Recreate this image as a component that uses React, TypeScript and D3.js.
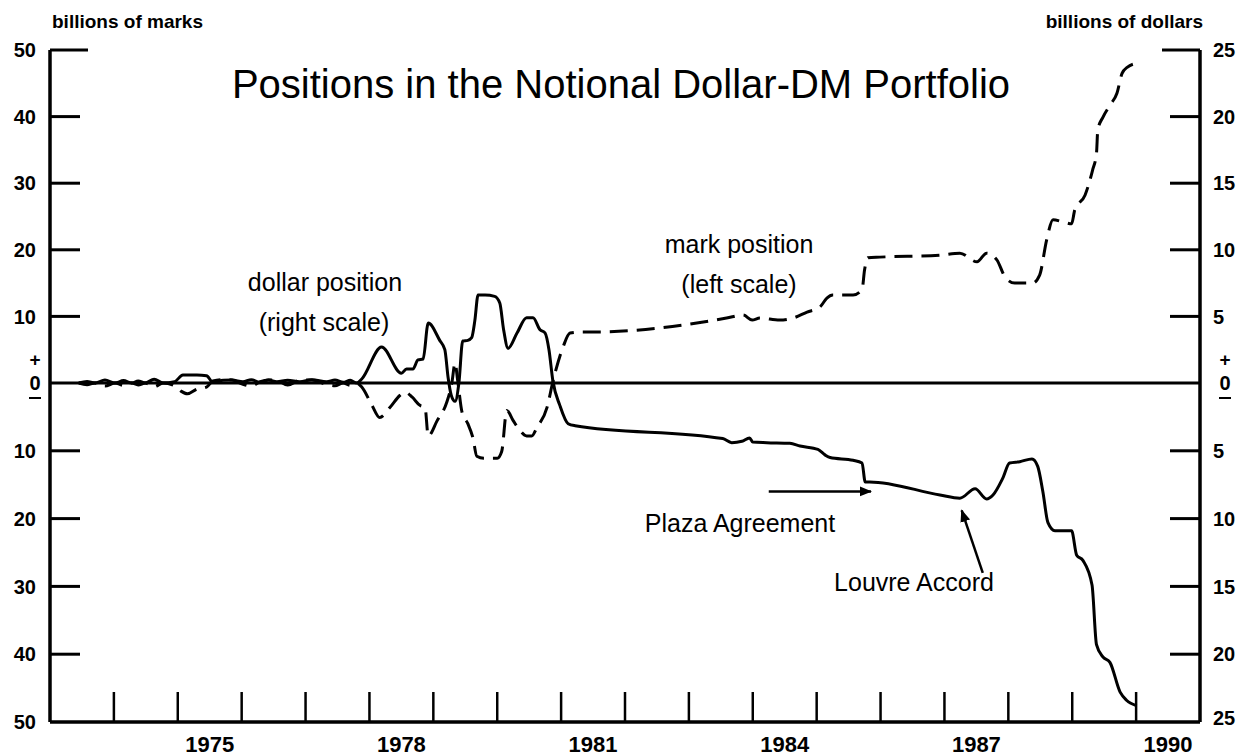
import * as d3 from "d3";
import React from "react";

const width = 1248;
const height = 756;
const plot = { left: 50, right: 1200, top: 50, zero: 383, bottom: 722 };
const font = "'Liberation Sans', Arial, Helvetica, sans-serif";

// dollar position, billions of dollars (right scale)
const dollarYears = [
  1973.45, 1973.58, 1973.7, 1973.86, 1974.02, 1974.15, 1974.28, 1974.38, 1974.49, 1974.63,
  1974.77, 1974.95, 1975.08, 1975.3, 1975.45, 1975.55, 1975.71, 1975.85, 1976.02, 1976.15,
  1976.29, 1976.42, 1976.55, 1976.72, 1976.91, 1977.1, 1977.33, 1977.46, 1977.59, 1977.7,
  1977.8, 1977.88, 1978.19, 1978.5, 1978.58, 1978.68, 1978.76, 1978.84, 1978.92, 1979.1,
  1979.18, 1979.23, 1979.28, 1979.34, 1979.4, 1979.46, 1979.54, 1979.6, 1979.65, 1979.7,
  1979.81, 1979.96, 1980.04, 1980.1, 1980.17, 1980.31, 1980.46, 1980.56, 1980.67, 1980.75,
  1980.81, 1980.87, 1980.98, 1981.11, 1981.22, 1983.53, 1983.67, 1983.83, 1983.95, 1984.0,
  1984.22, 1984.58, 1984.74, 1985.02, 1985.13, 1985.21, 1985.57, 1985.71, 1985.76, 1985.83,
  1986.93, 1987.24, 1987.48, 1987.66, 1987.76, 1987.91, 1988.02, 1988.18, 1988.37, 1988.46,
  1988.54, 1988.62, 1988.73, 1988.85, 1988.99, 1989.07, 1989.17, 1989.31, 1989.38, 1989.48,
  1989.59, 1989.75, 1989.85, 1990.01,
];
const dollarValues = [
  0, 0.12, 0, 0.22, 0, 0.18, 0, 0.15, 0, 0.28,
  0, 0.1, 0.6, 0.6, 0.55, 0.05, 0.2, 0.22, 0.1, 0.25,
  0.05, 0.22, 0.1, 0.2, 0.1, 0.25, 0.1, 0.22, 0.05, 0.2,
  0, 0.3, 2.7, 0.73, 1.05, 1.05, 1.73, 1.8, 4.5, 3.2,
  2.5, 0.45, -0.9, -1.35, 0, 3.15, 3.2, 3.4, 4.7, 6.6,
  6.6, 6.5, 6.0, 4.0, 2.6, 3.75, 4.9, 4.9, 4.0, 3.75,
  2.5, 0.2, -1.65, -3.0, -3.15, -4.1, -4.4, -4.3, -4.05, -4.35,
  -4.4, -4.45, -4.65, -4.9, -5.3, -5.5, -5.7, -5.9, -7.3, -7.3,
  -8.26, -8.5, -7.8, -8.55, -8.26, -7.05, -5.9, -5.8, -5.6, -6.15,
  -8.0, -10.3, -10.9, -10.9, -10.9, -12.7, -13.1, -14.9, -19.3, -20.2,
  -20.6, -22.8, -23.4, -23.8,
];

// mark position, billions of marks (left scale)
const markYears = [
  1973.45, 1973.58, 1973.7, 1973.86, 1974.02, 1974.15, 1974.28, 1974.38, 1974.49, 1974.63,
  1974.77, 1974.95, 1975.05, 1975.15, 1975.3, 1975.45, 1975.55, 1975.71, 1975.85, 1976.02,
  1976.15, 1976.29, 1976.42, 1976.55, 1976.72, 1976.91, 1977.1, 1977.33, 1977.46, 1977.59,
  1977.7, 1977.8, 1977.88, 1978.04, 1978.16, 1978.32, 1978.48, 1978.56, 1978.67, 1978.79,
  1978.87, 1978.92, 1979.06, 1979.21, 1979.29, 1979.34, 1979.38, 1979.45, 1979.54, 1979.62,
  1979.68, 1979.79, 1980.0, 1980.07, 1980.15, 1980.25, 1980.36, 1980.46, 1980.54, 1980.62,
  1980.78, 1980.87, 1981.03, 1981.14, 1981.29, 1981.5, 1983.59, 1983.85, 1983.99, 1984.11,
  1984.42, 1984.63, 1984.85, 1985.05, 1985.16, 1985.25, 1985.57, 1985.71, 1985.75, 1985.8,
  1985.99, 1986.93, 1987.24, 1987.51, 1987.66, 1987.82, 1987.95, 1988.1, 1988.38, 1988.49,
  1988.6, 1988.7, 1988.85, 1988.99, 1989.04, 1989.2, 1989.32, 1989.38, 1989.4, 1989.48,
  1989.59, 1989.7, 1989.78, 1989.86, 1990.01,
];
const markValues = [
  0, -0.25, 0, -0.45, 0, -0.35, 0, -0.3, 0, -0.55,
  0, -0.4, -1.2, -1.6, -0.9, -0.6, 0.3, 0.5, 0.45, -0.2,
  -0.45, 0.2, 0.45, 0.4, -0.3, 0.4, 0.45, -0.2, -0.4, 0,
  -0.35, 0, -0.6, -3.3, -5.1, -3.6, -1.8, -1.35, -2.1, -3.3,
  -3.6, -7.8, -5.55, -2.85, 0, 3.0, 0.45, -4.35, -6.0, -8.1,
  -10.8, -11.1, -11.1, -10.1, -4.05, -5.55, -7.05, -7.8, -7.8, -6.6,
  -3.6, 0.15, 5.4, 7.5, 7.65, 7.65, 9.75, 10.2, 9.45, 9.75,
  9.45, 9.75, 10.65, 11.4, 12.75, 13.2, 13.2, 14.0, 17.0, 18.8,
  18.9, 19.2, 19.5, 18.2, 19.5, 18.5, 15.9, 15.0, 15.0, 16.2,
  21.5, 24.5, 24.2, 23.9, 26.0, 28.2, 32.0, 34.5, 38.0, 39.9,
  41.7, 43.5, 46.5, 47.4, 48.0,
];

const leftTicks = [50, 40, 30, 20, 10, -10, -20, -30, -40];
const rightTicks = [25, 20, 15, 10, 5, -5, -10, -15, -20];
const yearTicks = d3.range(1974, 1991);
const yearLabels = [1975, 1978, 1981, 1984, 1987, 1990];

const x = d3.scaleLinear().domain([1973, 1991]).range([plot.left, plot.right]);
const yMark = d3.scaleLinear().domain([-50, 0, 50]).range([plot.bottom, plot.zero, plot.top]);
const yDollar = d3.scaleLinear().domain([-25, 0, 25]).range([plot.bottom, plot.zero, plot.top]);

const dollarLine = d3
  .line<number>()
  .x((d, i) => x(dollarYears[i]))
  .y((d) => yDollar(d))
  .curve(d3.curveMonotoneX);

const markLine = d3
  .line<number>()
  .x((d, i) => x(markYears[i]))
  .y((d) => yMark(d))
  .curve(d3.curveMonotoneX);

const App = () => {
  const tickLen = 30;
  const numStyle = { fontFamily: font, fontSize: 20, fontWeight: 700 } as const;
  const noteStyle = { fontFamily: font, fontSize: 25 } as const;

  return (
    <svg
      width={width}
      height={height}
      style={{ position: "absolute", left: 0, top: 0, background: "#fff" }}
    >
      <defs>
        <marker id="head" viewBox="0 0 10 10" refX="9" refY="5" markerWidth="5" markerHeight="5" orient="auto">
          <path d="M0,1 L10,5 L0,9 Z" fill="#000" />
        </marker>
      </defs>

      {/* frame */}
      <g stroke="#000" strokeWidth={3.5} fill="none">
        <line x1={plot.left} y1={plot.top} x2={plot.left} y2={plot.bottom} />
        <line x1={plot.right} y1={plot.top} x2={plot.right} y2={plot.bottom} />
        <line x1={plot.left} y1={plot.bottom} x2={plot.right} y2={plot.bottom} />
        <line x1={plot.left} y1={plot.zero} x2={plot.right} y2={plot.zero} strokeWidth={3} />
      </g>

      {/* left axis */}
      {leftTicks.map((t, i) => (
        <g key={"l" + t}>
          <line
            x1={plot.left}
            x2={plot.left + (i === 0 ? 38 : tickLen)}
            y1={yMark(t)}
            y2={yMark(t)}
            stroke="#000"
            strokeWidth={3}
          />
          <text x={36} y={yMark(t)} dy="0.36em" textAnchor="end" style={numStyle}>
            {Math.abs(t)}
          </text>
        </g>
      ))}
      <text x={36} y={plot.bottom} dy="0.36em" textAnchor="end" style={numStyle}>50</text>

      {/* right axis */}
      {rightTicks.map((t, i) => (
        <g key={"r" + t}>
          <line
            x1={plot.right - (i === 0 ? 38 : tickLen)}
            x2={plot.right}
            y1={yDollar(t)}
            y2={yDollar(t)}
            stroke="#000"
            strokeWidth={3}
          />
          <text x={1213} y={yDollar(t)} dy="0.36em" style={numStyle}>
            {Math.abs(t)}
          </text>
        </g>
      ))}
      <text x={1213} y={plot.bottom - 4} dy="0.36em" style={numStyle}>25</text>

      {/* +0- markers */}
      {[35, 1225].map((cx) => (
        <g key={"z" + cx} style={numStyle} textAnchor="middle">
          <text x={cx} y={plot.zero - 24} dy="0.36em" style={{ ...numStyle, fontSize: 19 }}>+</text>
          <text x={cx} y={plot.zero} dy="0.36em">0</text>
          <line x1={cx - 6} x2={cx + 6} y1={plot.zero + 15} y2={plot.zero + 15} stroke="#000" strokeWidth={2} />
        </g>
      ))}

      {/* year ticks */}
      {yearTicks.map((yr) => (
        <line
          key={yr}
          x1={x(yr)}
          x2={x(yr)}
          y1={plot.bottom - 30}
          y2={plot.bottom}
          stroke="#000"
          strokeWidth={2.5}
        />
      ))}
      {yearLabels.map((yr) => (
        <text key={yr} x={x(yr + 0.5)} y={752} textAnchor="middle" style={{ ...numStyle, fontSize: 22 }}>
          {yr}
        </text>
      ))}

      {/* series */}
      <path d={dollarLine(dollarValues) || ""} fill="none" stroke="#000" strokeWidth={3} strokeLinejoin="round" />
      <path
        d={markLine(markValues) || ""}
        fill="none"
        stroke="#000"
        strokeWidth={3}
        strokeDasharray="18 9"
        strokeLinejoin="round"
      />

      {/* titles */}
      <text x={52} y={28} style={{ fontFamily: font, fontSize: 19, fontWeight: 700 }}>billions of marks</text>
      <text x={1203} y={28} textAnchor="end" style={{ fontFamily: font, fontSize: 19, fontWeight: 700 }}>
        billions of dollars
      </text>
      <text x={621} y={98} textAnchor="middle" style={{ fontFamily: font, fontSize: 40 }}>
        Positions in the Notional Dollar-DM Portfolio
      </text>

      {/* annotations */}
      <text x={325} y={291} textAnchor="middle" style={noteStyle}>dollar position</text>
      <text x={324} y={331} textAnchor="middle" style={noteStyle}>(right scale)</text>
      <text x={739} y={253} textAnchor="middle" style={noteStyle}>mark position</text>
      <text x={739} y={293} textAnchor="middle" style={noteStyle}>(left scale)</text>
      <text x={740} y={532} textAnchor="middle" style={noteStyle}>Plaza Agreement</text>
      <text x={914} y={591} textAnchor="middle" style={noteStyle}>Louvre Accord</text>

      <line
        x1={x(1984.25)}
        y1={yDollar(-8.0)}
        x2={x(1985.85)}
        y2={yDollar(-8.0)}
        stroke="#000"
        strokeWidth={2.5}
        markerEnd="url(#head)"
      />
      <line
        x1={x(1987.6)}
        y1={yDollar(-14.0)}
        x2={x(1987.27)}
        y2={yDollar(-9.4)}
        stroke="#000"
        strokeWidth={2.5}
        markerEnd="url(#head)"
      />
    </svg>
  );
};

export default App;
